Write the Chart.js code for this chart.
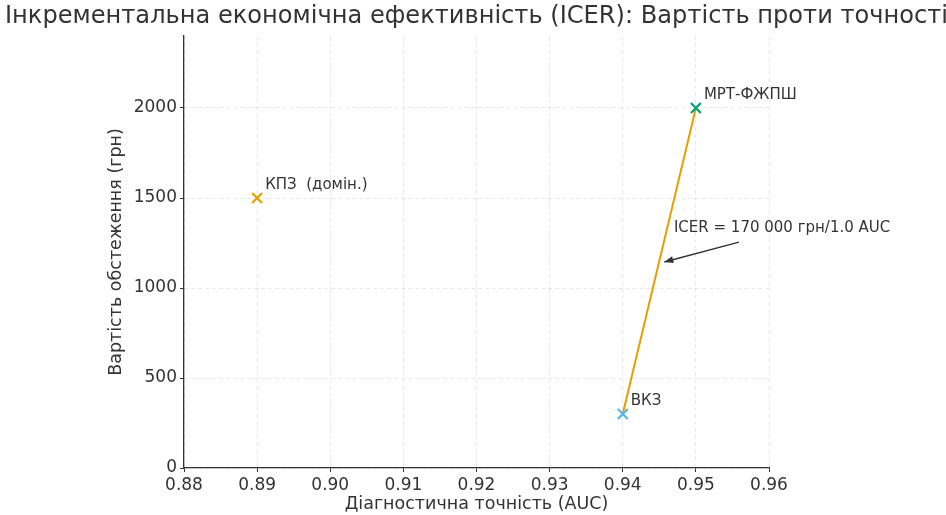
<!DOCTYPE html>
<html><head><meta charset="utf-8">
<script src="https://cdn.jsdelivr.net/npm/chart.js@4/dist/chart.umd.min.js"></script>
<style>html,body{margin:0;padding:0;background:#fff}#wrap{width:946px;height:515px}</style>
</head><body><div id="wrap"><canvas id="c" width="946" height="515"></canvas></div>
<script>
const methods = ['КПЗ  (домін.)', 'ВКЗ', 'МРТ-ФЖПШ'];
const accuracy = [0.89, 0.94, 0.95];
const cost = [1500, 300, 2000];
const pointColors = ['#E69F00', '#56B4E9', '#009E73'];
const frontierX = [0.94, 0.95];
const frontierY = [300, 2000];
const xTicks = [0.88, 0.89, 0.90, 0.91, 0.92, 0.93, 0.94, 0.95, 0.96];
const yTicks = [0, 500, 1000, 1500, 2000];
const icerText = 'ICER = 170 000 грн/1.0 AUC';
const icerTarget = [0.945, 1150];
const icerTextAt = [0.947, 1333];

const titleText = 'Інкрементальна економічна ефективність (ICER): Вартість проти точності';
const FONT = '"DejaVu Sans", sans-serif';
const TXT = '#333';

const overlay = {
  id: 'overlay',
  afterDatasetsDraw(chart) {
    const {ctx, chartArea, scales: {x, y}} = chart;
    ctx.save();
    // title (slightly condensed like the reference)
    const fs = 24;
    ctx.font = fs + 'px ' + FONT;
    const w = ctx.measureText(titleText).width;
    const sx0 = 943 / w;
    ctx.fillStyle = TXT;
    ctx.textAlign = 'center';
    ctx.textBaseline = 'middle';
    ctx.save();
    ctx.translate((chartArea.left + chartArea.right) / 2, 17);
    ctx.scale(sx0, 1);
    ctx.fillText(titleText, 0, 0);
    ctx.restore();
    // point labels
    ctx.font = '15px ' + FONT;
    ctx.textAlign = 'left';
    methods.forEach((m, i) => {
      const px = x.getPixelForValue(accuracy[i]);
      const py = y.getPixelForValue(cost[i]);
      ctx.fillText(m, px + 8, py - 13);
    });
    // annotation
    const tx = x.getPixelForValue(icerTextAt[0]);
    const ty = y.getPixelForValue(icerTextAt[1]);
    ctx.fillText(icerText, tx, ty);
    const ax = x.getPixelForValue(icerTarget[0]) + 5;
    const ay = y.getPixelForValue(icerTarget[1]) + 1;
    const sx = tx + 65, sy = ty + 14;
    ctx.strokeStyle = TXT;
    ctx.lineWidth = 1.4;
    ctx.beginPath();
    ctx.moveTo(sx, sy);
    ctx.lineTo(ax, ay);
    ctx.stroke();
    const ang = Math.atan2(ay - sy, ax - sx);
    const L = 9, W = 3.5;
    ctx.beginPath();
    ctx.moveTo(ax, ay);
    ctx.lineTo(ax - L * Math.cos(ang) + W * Math.sin(ang), ay - L * Math.sin(ang) - W * Math.cos(ang));
    ctx.lineTo(ax - L * Math.cos(ang) - W * Math.sin(ang), ay - L * Math.sin(ang) + W * Math.cos(ang));
    ctx.closePath();
    ctx.fillStyle = TXT;
    ctx.fill();
    ctx.restore();
  }
};

const gridOpts = {color: 'rgba(0,0,0,0.09)', lineWidth: 1, tickColor: TXT, tickLength: 4, tickBorderDash: []};

new Chart(document.getElementById('c'), {
  data: {
    datasets: [
      {
        type: 'line',
        data: frontierX.map((v, i) => ({x: v, y: frontierY[i]})),
        borderColor: '#E69F00',
        borderWidth: 2,
        pointRadius: 0,
        order: 2
      },
      {
        type: 'scatter',
        data: accuracy.map((v, i) => ({x: v, y: cost[i]})),
        pointStyle: 'crossRot',
        pointRadius: 7,
        borderWidth: 2.2,
        borderColor: pointColors,
        backgroundColor: pointColors,
        order: 1
      }
    ]
  },
  options: {
    responsive: false,
    animation: false,
    devicePixelRatio: 1,
    layout: {padding: {left: 102, right: 177, top: 36, bottom: 0}},
    plugins: {legend: {display: false}, tooltip: {enabled: false}},
    scales: {
      x: {
        type: 'linear', min: 0.88, max: 0.96,
        afterBuildTicks: s => { s.ticks = xTicks.map(v => ({value: v})); },
        afterFit: s => { s.height = 47; },
        ticks: {callback: v => v.toFixed(2), autoSkip: false, maxRotation: 0, padding: 3,
                color: TXT, font: {family: FONT, size: 17}},
        grid: gridOpts,
        border: {display: true, color: TXT, width: 1.3, dash: [4, 3]},
        title: {display: true, text: 'Діагностична точність (AUC)', color: TXT,
                font: {family: FONT, size: 17.5}, padding: {top: 0, bottom: 0}}
      },
      y: {
        type: 'linear', min: 0, max: 2400,
        afterBuildTicks: s => { s.ticks = yTicks.map(v => ({value: v})); },
        afterFit: s => { s.width = 82; },
        ticks: {callback: v => String(v), autoSkip: false, padding: 3, color: TXT,
                font: {family: FONT, size: 17}},
        grid: gridOpts,
        border: {display: true, color: TXT, width: 1.3, dash: [4, 3]},
        title: {display: true, text: 'Вартість обстеження (грн)', color: TXT,
                font: {family: FONT, size: 17.5}, padding: {top: 4, bottom: 0}}
      }
    }
  },
  plugins: [overlay]
});
</script>
</body></html>
